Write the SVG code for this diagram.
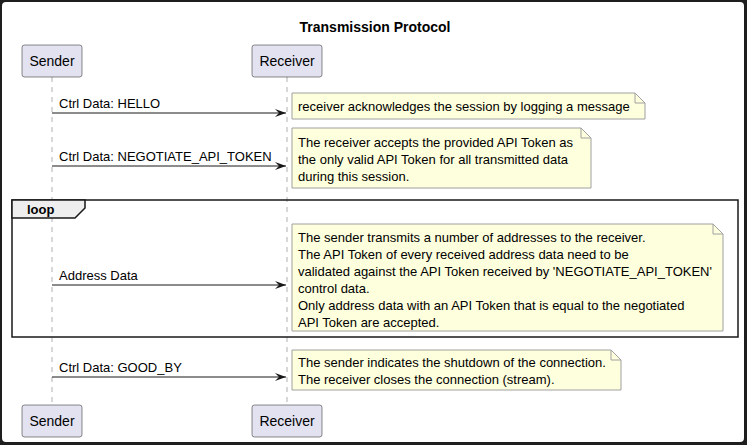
<svg xmlns="http://www.w3.org/2000/svg" width="747" height="445" viewBox="0 0 747 445">
<style>
.part{fill:#E2E2F0;stroke:#181818;stroke-width:0.5}
.ptxt{font-family:"Liberation Sans",Arial,sans-serif;font-size:14px;fill:#000;text-anchor:middle}
.life{stroke:#B0B0B0;stroke-width:1;stroke-dasharray:5,5;fill:none}
.msg{stroke:#181818;stroke-width:1;fill:none}
.mtxt{font-family:"Liberation Sans",Arial,sans-serif;font-size:13px;fill:#000}
.note{fill:#FEFFDD;stroke:#A0A0A0;stroke-width:1}
.fold{fill:none;stroke:#A0A0A0;stroke-width:1}
.ntxt{font-family:"Liberation Sans",Arial,sans-serif;font-size:13px;fill:#000}
.ttl{font-family:"Liberation Sans",Arial,sans-serif;font-size:14px;font-weight:bold;fill:#000;text-anchor:middle}
</style>
<defs>
<marker id="ah" markerWidth="12" markerHeight="10" refX="11" refY="5" orient="auto" markerUnits="userSpaceOnUse">
<path d="M0,1 L11,5 L0,9 L4,5 Z" fill="#181818"/>
</marker>
</defs>
<rect x="0" y="0" width="747" height="445" fill="#1E1E1E"/>
<rect x="2" y="2" width="742" height="440" rx="4" fill="#FFFFFF"/>
<text class="ttl" x="375" y="32">Transmission Protocol</text>
<g id="lifelines">
<line class="life" x1="52" y1="77" x2="52" y2="405"/>
<line class="life" x1="287" y1="77" x2="287" y2="405"/>
</g>
<g id="loop">
<rect x="12" y="200" width="726" height="137" fill="none" stroke="#181818" stroke-width="1.5"/>
<path d="M12,200 L85,200 L85,208 L75,218 L12,218 Z" fill="#EEEEEE" stroke="#181818" stroke-width="1.5"/>
<text x="27" y="214" class="mtxt" font-weight="bold">loop</text>
</g>
<g id="sender-top">
<rect class="part" x="22" y="45" width="60" height="32" rx="2.5"/>
<text class="ptxt" x="52" y="66">Sender</text>
</g>
<g id="receiver-top">
<rect class="part" x="252" y="45" width="70" height="32" rx="2.5"/>
<text class="ptxt" x="287" y="66">Receiver</text>
</g>
<g id="sender-bottom">
<rect class="part" x="22" y="405" width="60" height="32" rx="2.5"/>
<text class="ptxt" x="52" y="426">Sender</text>
</g>
<g id="receiver-bottom">
<rect class="part" x="252" y="405" width="70" height="32" rx="2.5"/>
<text class="ptxt" x="287" y="426">Receiver</text>
</g>
<g id="connectors">
<line class="msg" x1="52" y1="113" x2="286" y2="113" marker-end="url(#ah)"/>
<text class="mtxt" x="59" y="108">Ctrl Data: HELLO</text>
<line class="msg" x1="52" y1="166" x2="286" y2="166" marker-end="url(#ah)"/>
<text class="mtxt" x="59" y="161">Ctrl Data: NEGOTIATE_API_TOKEN</text>
<line class="msg" x1="52" y1="285" x2="286" y2="285" marker-end="url(#ah)"/>
<text class="mtxt" x="59" y="280">Address Data</text>
<line class="msg" x1="52" y1="377" x2="286" y2="377" marker-end="url(#ah)"/>
<text class="mtxt" x="59" y="372">Ctrl Data: GOOD_BY</text>
</g>
<g id="note1">
<path class="note" d="M292,93 L635,93 L645,103 L645,119 L292,119 Z"/>
<path class="fold" d="M635,93 L635,103 L645,103"/>
<text class="ntxt" x="298" y="111">receiver acknowledges the session by logging a message</text>
</g>
<g id="note2">
<path class="note" d="M292,128 L581,128 L591,138 L591,188 L292,188 Z"/>
<path class="fold" d="M581,128 L581,138 L591,138"/>
<text class="ntxt" x="298" y="147">The receiver accepts the provided API Token as</text>
<text class="ntxt" x="298" y="164">the only valid API Token for all transmitted data</text>
<text class="ntxt" x="298" y="181">during this session.</text>
</g>
<g id="note3">
<path class="note" d="M292,224 L713,224 L723,234 L723,331 L292,331 Z"/>
<path class="fold" d="M713,224 L713,234 L723,234"/>
<text class="ntxt" x="298" y="242">The sender transmits a number of addresses to the receiver.</text>
<text class="ntxt" x="298" y="259">The API Token of every received address data need to be</text>
<text class="ntxt" x="298" y="276">validated against the API Token received by 'NEGOTIATE_API_TOKEN'</text>
<text class="ntxt" x="298" y="293">control data.</text>
<text class="ntxt" x="298" y="310">Only address data with an API Token that is equal to the negotiated</text>
<text class="ntxt" x="298" y="327">API Token are accepted.</text>
</g>
<g id="note4">
<path class="note" d="M292,350 L611,350 L621,360 L621,390 L292,390 Z"/>
<path class="fold" d="M611,350 L611,360 L621,360"/>
<text class="ntxt" x="298" y="367">The sender indicates the shutdown of the connection.</text>
<text class="ntxt" x="298" y="384">The receiver closes the connection (stream).</text>
</g>
</svg>
